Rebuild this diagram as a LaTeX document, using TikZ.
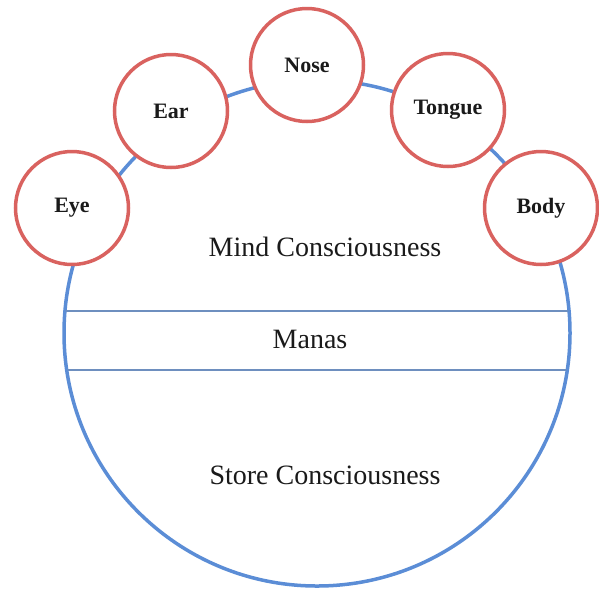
\documentclass[tikz,border=0pt]{standalone}
\usepackage{fontspec}
\setmainfont{Liberation Serif}
\usetikzlibrary{positioning}
\definecolor{ringblue}{HTML}{5B8DD6}
\definecolor{sensered}{HTML}{D9625F}
\definecolor{bandline}{HTML}{6E8FBF}
\definecolor{ink}{HTML}{1A1A1A}
\tikzset{
  every node/.style={text=ink},
  sense/.style={circle, draw=sensered, line width=3.5pt, fill=white,
                minimum size=113pt, inner sep=0pt,
                font=\fontsize{22}{24}\selectfont\bfseries},
  ring/.style={circle, draw=ringblue, line width=3.5pt, minimum size=506pt, inner sep=0pt},
  layer/.style={font=\fontsize{28}{30}\selectfont},
  band/.style={draw=bandline, line width=1.3pt},
}

\begin{document}
\begin{tikzpicture}[x=1pt,y=-1pt]
\useasboundingbox (0,0) rectangle (599,590);

% ---------------- big circle ----------------
\node[ring] (ring) at (317,333) {};

\begin{scope}
  \clip (317,333) circle[radius=252pt];
  \draw[band] (0,311) -- (599,311);
  \draw[band] (0,370) -- (599,370);
\end{scope}

\node[layer] (mind)  at (325,247) {Mind Consciousness};
\node[layer] (manas) at (310,339) {Manas};
\node[layer] (store) at (325,475) {Store Consciousness};

% ---------------- five senses ----------------
\node[sense] (eye)    at (72,208)  {Eye};
\node[sense] (ear)    at (171,111) {Ear};
\node[sense] (nose)   at (307,65)  {Nose};
\node[sense] (tongue) at (448,110) {Tongue};
\node[sense] (body)   at (541,208) {Body};

\end{tikzpicture}
\end{document}
